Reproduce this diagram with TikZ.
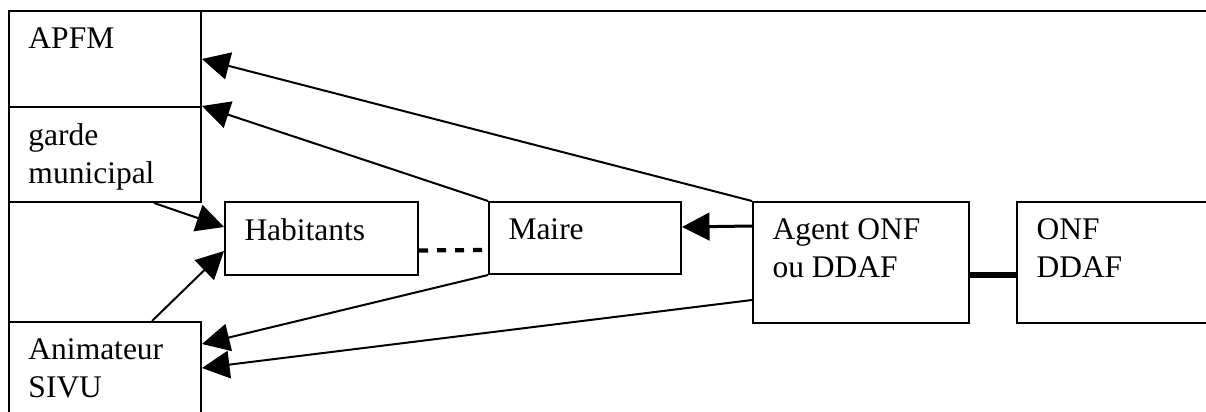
\documentclass[tikz,border=0pt]{standalone}
\usepackage{fontspec}
\setmainfont{Liberation Serif}
\usetikzlibrary{arrows.meta,positioning,fit}

\begin{document}
\begin{tikzpicture}[
  x=0.4pt, y=-0.4pt,
  >={Triangle[length=11pt, width=11pt]},
  boite/.style={draw, line width=0.8pt, inner sep=0pt},
  texte/.style={font=\fontsize{12.6}{15.2}\selectfont, align=left, anchor=north west, inner sep=0pt},
  fleche/.style={->, line width=0.8pt},
]
  % Page
  \useasboundingbox (0,0) rectangle (1206,412);
  \fill[white] (0,0) rectangle (1206,412);
  \clip (0,0) rectangle (1206,412);

  % Cadre (ouvert a droite et en bas)
  \node[boite, fit={(9,11) (1230,430)}] (cadre) {};

  % Boites de gauche
  \node[boite, fit={(9,11) (201,107)}] (apfm) {};
  \node[boite, fit={(9,107) (201,202)}] (garde) {};
  \node[boite, fit={(9,322) (201,430)}] (anim) {};

  % Boites du milieu et de droite
  \node[boite, fit={(225,202) (418,275)}] (hab) {};
  \node[boite, fit={(489,202) (681,274)}] (maire) {};
  \node[boite, fit={(753,202) (969,323)}] (agent) {};
  \node[boite, fit={(1017,202) (1230,323)}] (onf) {};

  % Textes
  \node[texte] (apfm-t) at ([shift={(20,17)}]apfm.north west) {APFM};
  \node[texte] (garde-t) at ([shift={(20,17)}]garde.north west) {garde\\municipal};
  \node[texte] (anim-t) at ([shift={(20,17)}]anim.north west) {Animateur\\SIVU};
  \node[texte] (hab-t) at ([shift={(20,17)}]hab.north west) {Habitants};
  \node[texte] (maire-t) at ([shift={(20,17)}]maire.north west) {Maire};
  \node[texte] (agent-t) at ([shift={(20,17)}]agent.north west) {Agent ONF\\ou DDAF};
  \node[texte] (onf-t) at ([shift={(20,17)}]onf.north west) {ONF\\DDAF};

  % Fleches
  \draw[fleche] (agent.north west) -- (apfm.east);
  \draw[fleche] (maire.north west) -- (garde.north east);
  \draw[fleche] ([shift={(146,0)}]garde.south west) -- ([shift={(0,-11.5)}]hab.west);
  \draw[fleche] ([shift={(144,0)}]anim.north west) -- ([shift={(0,12.5)}]hab.west);
  \draw[fleche] (maire.south west) -- ([shift={(0,23)}]anim.north east);
  \draw[fleche] ([shift={(0,-24)}]agent.south west) -- ([shift={(0,47)}]anim.north east);
  \draw[fleche, line width=1.2pt] ([shift={(0,25)}]agent.north west) -- ([shift={(0,-11)}]maire.east);

  % Liens sans fleche
  \draw[line width=1.7pt, dash pattern=on 3.6pt off 3.6pt] ([shift={(0,12)}]hab.east) -- ([shift={(0,12)}]maire.west);
  \draw[line width=2.2pt] ([shift={(0,12.5)}]agent.east) -- ([shift={(0,12.5)}]onf.west);

\end{tikzpicture}
\end{document}
